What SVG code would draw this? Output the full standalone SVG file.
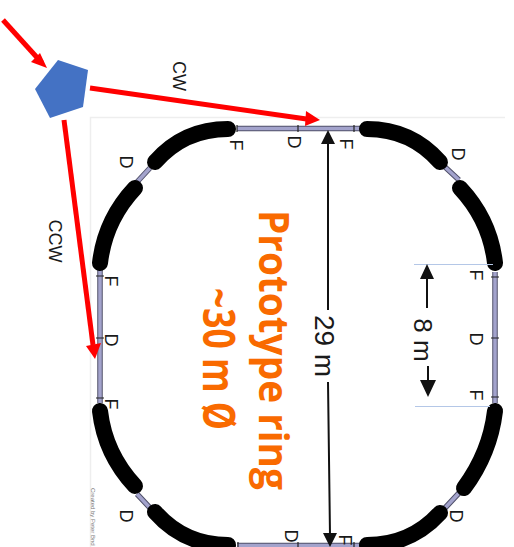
<svg xmlns="http://www.w3.org/2000/svg" width="514" height="547" viewBox="0 0 514 547">
<style>
text{font-family:"Liberation Sans",Arial,sans-serif;fill:#1a1a1a}
.l{font-size:18px;text-anchor:middle}
.o{fill:#f96a00;font-family:"Open Sans","Liberation Sans",sans-serif;font-weight:700;text-anchor:middle}
.s{fill:none;stroke:#50506a;stroke-width:5.500}
.si{fill:none;stroke:#a3a3cc;stroke-width:3.500}
.b{fill:none;stroke:#000;stroke-width:16;stroke-linecap:round}
.r{stroke:#f00;stroke-width:5;fill:none}
.k{stroke:#111;stroke-width:2;fill:none}
.t{stroke:#222;stroke-width:1.200}
.h{stroke:#b4c7e7;stroke-width:1.200}
</style>
<rect width="514" height="547" fill="#fff"/>
<g id="page"><path d="M90.500 547V117.500H505" fill="none" stroke="#eeeeee" stroke-width="1.500"/>
<text transform="translate(91,488) rotate(90)" style="font-size:6px;fill:#777">Created by Peter Bnd</text></g>
<g id="ring">
<path class="s" d="M237 128.500H360M495 272V403M100 270V403M237 545.500H360M150 168L137 182M445 167L459 180M137 494L151 509M459 493L445 508"/>
<path class="si" d="M237 128.500H360M495 272V403M100 270V403M237 545.500H360M150 168L137 182M445 167L459 180M137 494L151 509M459 493L445 508"/>
<path class="t" d="M237 125V132M298 125V132M354 125V132M491 277H499M491 338H499M491 397H499M96 276H104M96 338H104M96 398H104M238 542V549M298 542V549M354 542V549"/>
<path class="b" d="M367 129Q411 129 440 162"/>
<path class="b" d="M460 188Q490 220 495 263"/>
<path class="b" d="M228 129Q184 129 155 162"/>
<path class="b" d="M135 188Q105 220 100 263"/>
<path class="b" d="M100 411Q105 454 135 486"/>
<path class="b" d="M155 512Q184 545 228 545"/>
<path class="b" d="M495 411Q490 453 464 488"/>
<path class="b" d="M440 513Q411 545 367 545"/>
</g>
<g id="labels">
<text class="l" transform="translate(230,145) rotate(90)">F</text>
<text class="l" transform="translate(288,142) rotate(90)">D</text>
<text class="l" transform="translate(340,144) rotate(90)">F</text>
<text class="l" transform="translate(452,154) rotate(90)">D</text>
<text class="l" transform="translate(470,275) rotate(90)">F</text>
<text class="l" transform="translate(470,339) rotate(90)">D</text>
<text class="l" transform="translate(470,395) rotate(90)">F</text>
<text class="l" transform="translate(450,516) rotate(90)">D</text>
<text class="l" transform="translate(339,540) rotate(90)">F</text>
<text class="l" transform="translate(285,536) rotate(90)">D</text>
<text class="l" transform="translate(120,162) rotate(90)">D</text>
<text class="l" transform="translate(105,281) rotate(90)">F</text>
<text class="l" transform="translate(105,340) rotate(90)">D</text>
<text class="l" transform="translate(105,404) rotate(90)">F</text>
<text class="l" transform="translate(120,516) rotate(90)">D</text>
<text class="l" transform="translate(173,76) rotate(90)">CW</text>
<text class="l" transform="translate(49,241) rotate(90)">CCW</text>
<text transform="translate(315,346) rotate(90)" style="font-size:28px;text-anchor:middle">29 m</text>
<text transform="translate(414,340) rotate(90)" style="font-size:26px;text-anchor:middle">8 m</text>
<text class="o" transform="translate(259,350) rotate(90)" style="font-size:41px" textLength="280" lengthAdjust="spacingAndGlyphs">Prototype ring</text>
<text class="o" transform="translate(203,359) rotate(90)" style="font-size:44px" textLength="142" lengthAdjust="spacingAndGlyphs">~30 m Ø</text>
</g>
<g id="connectors">
<path class="h" d="M414 264.500H493M415 406.500H490"/>
<path class="k" d="M328 310V140M328 382L330 535"/>
<path d="M328 130L321 144H335ZM330 547L323 533H337Z" fill="#111"/>
<path class="k" d="M427 308V275M428 366V384"/>
<path d="M427 264L420 279H434ZM428 397L420 380H436Z" fill="#111"/>
<path class="r" d="M3 20L42 63"/>
<path d="M47 68L31 62L40 53Z" fill="#f00"/>
<path class="r" d="M90 88L310 119.500"/>
<path d="M320 120L306 111L305 126Z" fill="#f00"/>
<path class="r" d="M64 120L93 345"/>
<path d="M95 359L86 346L101 343Z" fill="#f00"/>
</g>
<g id="injector"><path d="M58 60L88 70L83 107L50 118L35 89Z" fill="#4472c4"/></g>
</svg>
